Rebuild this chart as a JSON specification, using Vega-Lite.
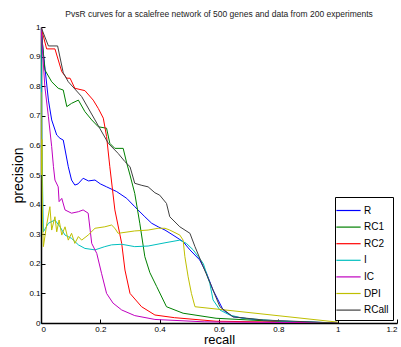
{
  "$schema": "https://vega.github.io/schema/vega-lite/v6.json",
  "autosize": {"type": "none"},
  "padding": {"left": 41, "top": 27, "right": 4, "bottom": 24},
  "width": 356,
  "height": 296,
  "background": "white",
  "title": {"text": "PvsR curves for a scalefree network of 500 genes and data from 200 experiments", "font": "Liberation Sans", "fontSize": 8.5, "fontWeight": "normal", "color": "#222222", "offset": 5, "anchor": "middle"},
  "config": {
    "view": {"stroke": null},
    "axis": {"grid": false, "domainColor": "#000000", "tickColor": "#000000", "labelColor": "#000000", "labelFont": "Liberation Sans", "labelFontSize": 8.5, "titleFont": "Liberation Sans", "titleFontWeight": "normal", "titleColor": "#000000", "titleFontSize": 14, "tickSize": -4, "domainWidth": 1.5}
  },
  "datasets": {
    "pr": [
      {"s":"R","r":0,"p":1},{"s":"R","r":0.008,"p":0.911},{"s":"R","r":0.025,"p":0.753},{"s":"R","r":0.036,"p":0.686},{"s":"R","r":0.053,"p":0.635},{"s":"R","r":0.064,"p":0.624},{"s":"R","r":0.075,"p":0.618},{"s":"R","r":0.092,"p":0.528},{"s":"R","r":0.103,"p":0.483},{"s":"R","r":0.114,"p":0.466},{"s":"R","r":0.125,"p":0.47},{"s":"R","r":0.142,"p":0.489},{"s":"R","r":0.16,"p":0.48},{"s":"R","r":0.182,"p":0.483},{"s":"R","r":0.2,"p":0.47},{"s":"R","r":0.221,"p":0.46},{"s":"R","r":0.255,"p":0.444},{"s":"R","r":0.289,"p":0.421},{"s":"R","r":0.316,"p":0.393},{"s":"R","r":0.35,"p":0.359},{"s":"R","r":0.373,"p":0.337},{"s":"R","r":0.395,"p":0.325},{"s":"R","r":0.418,"p":0.314},{"s":"R","r":0.445,"p":0.297},{"s":"R","r":0.479,"p":0.275},{"s":"R","r":0.502,"p":0.247},{"s":"R","r":0.535,"p":0.213},{"s":"R","r":0.558,"p":0.168},{"s":"R","r":0.58,"p":0.111},{"s":"R","r":0.614,"p":0.044},{"s":"R","r":0.647,"p":0.021},{"s":"R","r":0.75,"p":0.008},{"s":"R","r":1,"p":0},
      {"s":"RC1","r":0,"p":1},{"s":"RC1","r":0.013,"p":0.855},{"s":"RC1","r":0.036,"p":0.815},{"s":"RC1","r":0.058,"p":0.793},{"s":"RC1","r":0.075,"p":0.787},{"s":"RC1","r":0.087,"p":0.731},{"s":"RC1","r":0.103,"p":0.742},{"s":"RC1","r":0.126,"p":0.753},{"s":"RC1","r":0.148,"p":0.714},{"s":"RC1","r":0.171,"p":0.686},{"s":"RC1","r":0.193,"p":0.663},{"s":"RC1","r":0.221,"p":0.658},{"s":"RC1","r":0.232,"p":0.607},{"s":"RC1","r":0.249,"p":0.59},{"s":"RC1","r":0.277,"p":0.59},{"s":"RC1","r":0.289,"p":0.54},{"s":"RC1","r":0.3,"p":0.5},{"s":"RC1","r":0.316,"p":0.438},{"s":"RC1","r":0.333,"p":0.337},{"s":"RC1","r":0.35,"p":0.224},{"s":"RC1","r":0.367,"p":0.17},{"s":"RC1","r":0.39,"p":0.123},{"s":"RC1","r":0.423,"p":0.055},{"s":"RC1","r":0.479,"p":0.033},{"s":"RC1","r":0.59,"p":0.016},{"s":"RC1","r":0.8,"p":0.005},{"s":"RC1","r":1,"p":0},
      {"s":"RC2","r":0,"p":1},{"s":"RC2","r":0.019,"p":0.926},{"s":"RC2","r":0.047,"p":0.926},{"s":"RC2","r":0.07,"p":0.849},{"s":"RC2","r":0.087,"p":0.827},{"s":"RC2","r":0.098,"p":0.827},{"s":"RC2","r":0.114,"p":0.793},{"s":"RC2","r":0.148,"p":0.785},{"s":"RC2","r":0.176,"p":0.753},{"s":"RC2","r":0.193,"p":0.725},{"s":"RC2","r":0.21,"p":0.692},{"s":"RC2","r":0.221,"p":0.63},{"s":"RC2","r":0.232,"p":0.528},{"s":"RC2","r":0.249,"p":0.382},{"s":"RC2","r":0.272,"p":0.269},{"s":"RC2","r":0.283,"p":0.179},{"s":"RC2","r":0.3,"p":0.1},{"s":"RC2","r":0.339,"p":0.055},{"s":"RC2","r":0.384,"p":0.027},{"s":"RC2","r":0.45,"p":0.018},{"s":"RC2","r":0.59,"p":0.006},{"s":"RC2","r":1,"p":0},
      {"s":"I","r":0,"p":1},{"s":"I","r":0.003,"p":0.6},{"s":"I","r":0.008,"p":0.308},{"s":"I","r":0.025,"p":0.337},{"s":"I","r":0.047,"p":0.348},{"s":"I","r":0.064,"p":0.325},{"s":"I","r":0.081,"p":0.297},{"s":"I","r":0.103,"p":0.286},{"s":"I","r":0.126,"p":0.264},{"s":"I","r":0.148,"p":0.252},{"s":"I","r":0.182,"p":0.247},{"s":"I","r":0.215,"p":0.258},{"s":"I","r":0.238,"p":0.264},{"s":"I","r":0.272,"p":0.266},{"s":"I","r":0.316,"p":0.258},{"s":"I","r":0.361,"p":0.26},{"s":"I","r":0.418,"p":0.271},{"s":"I","r":0.468,"p":0.28},{"s":"I","r":0.49,"p":0.269},{"s":"I","r":0.513,"p":0.247},{"s":"I","r":0.547,"p":0.201},{"s":"I","r":0.569,"p":0.134},{"s":"I","r":0.58,"p":0.078},{"s":"I","r":0.603,"p":0.044},{"s":"I","r":0.636,"p":0.027},{"s":"I","r":0.681,"p":0.016},{"s":"I","r":0.8,"p":0.007},{"s":"I","r":1,"p":0},
      {"s":"IC","r":0,"p":1},{"s":"IC","r":0.013,"p":0.798},{"s":"IC","r":0.025,"p":0.697},{"s":"IC","r":0.036,"p":0.596},{"s":"IC","r":0.042,"p":0.528},{"s":"IC","r":0.047,"p":0.483},{"s":"IC","r":0.058,"p":0.46},{"s":"IC","r":0.061,"p":0.41},{"s":"IC","r":0.07,"p":0.421},{"s":"IC","r":0.081,"p":0.382},{"s":"IC","r":0.103,"p":0.371},{"s":"IC","r":0.126,"p":0.376},{"s":"IC","r":0.142,"p":0.382},{"s":"IC","r":0.159,"p":0.371},{"s":"IC","r":0.171,"p":0.269},{"s":"IC","r":0.188,"p":0.235},{"s":"IC","r":0.204,"p":0.168},{"s":"IC","r":0.221,"p":0.1},{"s":"IC","r":0.243,"p":0.067},{"s":"IC","r":0.272,"p":0.044},{"s":"IC","r":0.316,"p":0.025},{"s":"IC","r":0.384,"p":0.012},{"s":"IC","r":0.55,"p":0.004},{"s":"IC","r":1,"p":0},
      {"s":"DPI","r":0,"p":0.78},{"s":"DPI","r":0.002,"p":0.5},{"s":"DPI","r":0.003,"p":0.62},{"s":"DPI","r":0.005,"p":0.35},{"s":"DPI","r":0.008,"p":0.258},{"s":"DPI","r":0.019,"p":0.331},{"s":"DPI","r":0.03,"p":0.393},{"s":"DPI","r":0.036,"p":0.314},{"s":"DPI","r":0.047,"p":0.359},{"s":"DPI","r":0.053,"p":0.308},{"s":"DPI","r":0.061,"p":0.348},{"s":"DPI","r":0.07,"p":0.297},{"s":"DPI","r":0.081,"p":0.325},{"s":"DPI","r":0.092,"p":0.28},{"s":"DPI","r":0.103,"p":0.303},{"s":"DPI","r":0.114,"p":0.269},{"s":"DPI","r":0.126,"p":0.292},{"s":"DPI","r":0.137,"p":0.28},{"s":"DPI","r":0.159,"p":0.297},{"s":"DPI","r":0.182,"p":0.32},{"s":"DPI","r":0.215,"p":0.325},{"s":"DPI","r":0.238,"p":0.331},{"s":"DPI","r":0.249,"p":0.32},{"s":"DPI","r":0.26,"p":0.303},{"s":"DPI","r":0.316,"p":0.311},{"s":"DPI","r":0.361,"p":0.314},{"s":"DPI","r":0.395,"p":0.32},{"s":"DPI","r":0.418,"p":0.32},{"s":"DPI","r":0.434,"p":0.314},{"s":"DPI","r":0.468,"p":0.297},{"s":"DPI","r":0.479,"p":0.28},{"s":"DPI","r":0.485,"p":0.224},{"s":"DPI","r":0.496,"p":0.156},{"s":"DPI","r":0.507,"p":0.1},{"s":"DPI","r":0.519,"p":0.055},{"s":"DPI","r":1,"p":0.003},
      {"s":"RCall","r":0,"p":1},{"s":"RCall","r":0.025,"p":0.936},{"s":"RCall","r":0.056,"p":0.936},{"s":"RCall","r":0.075,"p":0.845},{"s":"RCall","r":0.092,"p":0.815},{"s":"RCall","r":0.137,"p":0.765},{"s":"RCall","r":0.182,"p":0.686},{"s":"RCall","r":0.227,"p":0.607},{"s":"RCall","r":0.26,"p":0.573},{"s":"RCall","r":0.283,"p":0.545},{"s":"RCall","r":0.3,"p":0.528},{"s":"RCall","r":0.316,"p":0.472},{"s":"RCall","r":0.34,"p":0.465},{"s":"RCall","r":0.361,"p":0.46},{"s":"RCall","r":0.384,"p":0.44},{"s":"RCall","r":0.4,"p":0.432},{"s":"RCall","r":0.423,"p":0.404},{"s":"RCall","r":0.434,"p":0.359},{"s":"RCall","r":0.468,"p":0.325},{"s":"RCall","r":0.502,"p":0.303},{"s":"RCall","r":0.519,"p":0.258},{"s":"RCall","r":0.547,"p":0.19},{"s":"RCall","r":0.575,"p":0.123},{"s":"RCall","r":0.603,"p":0.055},{"s":"RCall","r":0.647,"p":0.021},{"s":"RCall","r":0.75,"p":0.01},{"s":"RCall","r":1,"p":0}
    ]
  },
  "data": {"name": "pr"},
  "mark": {"type": "line", "strokeWidth": 1, "clip": true},
  "encoding": {
    "x": {"field": "r", "type": "quantitative", "title": "recall", "scale": {"domain": [0, 1.2], "nice": false, "zero": false}, "axis": {"values": [0, 0.2, 0.4, 0.6, 0.8, 1, 1.2], "format": "~g", "titlePadding": 0, "titleFontSize": 13, "labelPadding": 6, "labelFontSize": 8}},
    "y": {"field": "p", "type": "quantitative", "title": "precision", "scale": {"domain": [0, 1], "nice": false}, "axis": {"values": [0, 0.1, 0.2, 0.3, 0.4, 0.5, 0.6, 0.7, 0.8, 0.9, 1], "format": "~g", "titlePadding": 3, "labelPadding": 5, "labelFontSize": 8}},
    "color": {"field": "s", "type": "nominal", "sort": ["R", "RC1", "RC2", "I", "IC", "DPI", "RCall"],
      "scale": {"domain": ["R", "RC1", "RC2", "I", "IC", "DPI", "RCall"], "range": ["#0000ff", "#008000", "#ff0000", "#00bfbf", "#bf00bf", "#bfbf00", "#404040"]},
      "legend": {"title": null, "orient": "none", "legendX": 294, "legendY": 170, "fillColor": "white", "strokeColor": "#000000", "padding": 4, "symbolType": "M-1.4,0H1.4", "symbolSize": 300, "symbolStrokeWidth": 1.2, "labelFont": "Liberation Sans", "labelFontSize": 10, "labelColor": "#000000", "rowPadding": 1.6, "labelOffset": 6, "offset": 0}},
    "order": {"field": "r", "type": "quantitative"}
  }
}
